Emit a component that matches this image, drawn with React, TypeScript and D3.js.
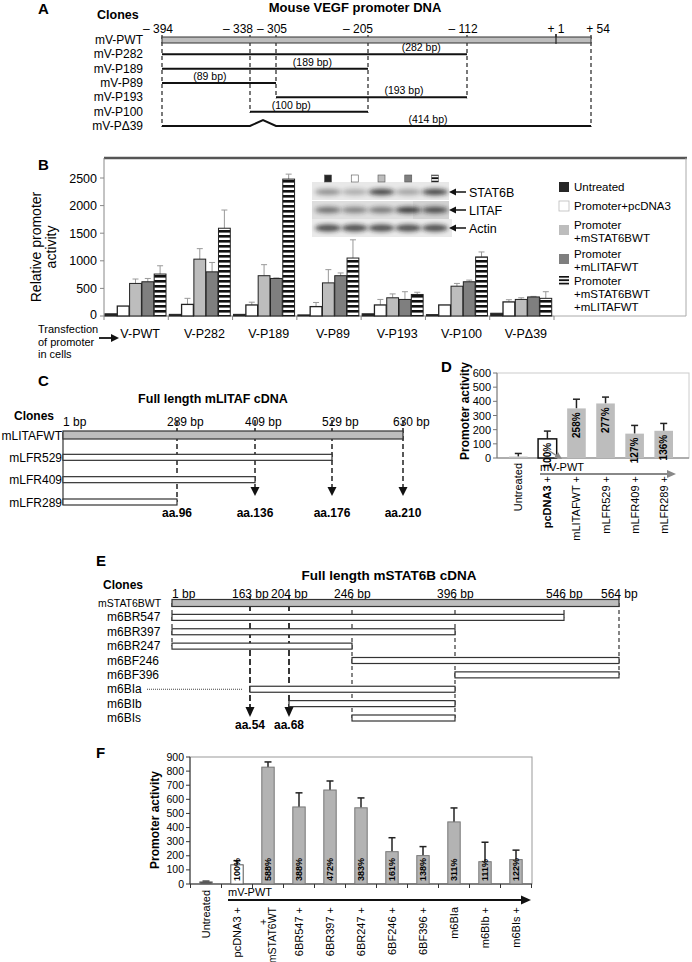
import React from "react";
import * as d3 from "d3";

const FONT = "'Liberation Sans', Arial, Helvetica, sans-serif";
const NARROW = "'Liberation Sans Narrow', 'Liberation Sans', Arial, sans-serif";

// ---------------- Panel A data ----------------
const promoterPositions = [-394, -338, -305, -205, -112, 1, 54];
const promoterTickLabels = ["– 394", "– 338", "– 305", "– 205", "– 112", "+ 1", "+ 54"];
const promoterClones = ["mV-PWT", "mV-P282", "mV-P189", "mV-P89", "mV-P193", "mV-P100", "mV-PΔ39"];
const promoterStart = [-394, -394, -394, -394, -305, -338, -394];
const promoterEnd = [54, -112, -205, -305, -112, -205, 54];
const promoterLengthLabels = ["", "(282 bp)", "(189 bp)", "(89 bp)", "(193 bp)", "(100 bp)", "(414 bp)"];

// ---------------- Panel B data ----------------
const promoterGroups = ["V-PWT", "V-P282", "V-P189", "V-P89", "V-P193", "V-P100", "V-PΔ39"];
const treatmentLabels = [
  ["Untreated"],
  ["Promoter+pcDNA3"],
  ["Promoter", "+mSTAT6BWT"],
  ["Promoter", "+mLITAFWT"],
  ["Promoter", "+mSTAT6BWT", "+mLITAFWT"],
];
const untreatedB = [40, 30, 30, 20, 40, 25, 50];
const pcdnaB = [180, 210, 200, 170, 200, 200, 255];
const stat6B = [590, 1030, 730, 600, 330, 540, 300];
const litafB = [620, 800, 680, 730, 300, 620, 345];
const comboB = [760, 1590, 2480, 1050, 390, 1070, 320];
const untreatedBErr = [0, 0, 0, 0, 0, 0, 0];
const pcdnaBErr = [0, 110, 50, 75, 100, 0, 40];
const stat6BErr = [80, 190, 200, 240, 70, 50, 30];
const litafBErr = [60, 170, 10, 50, 140, 30, 10];
const comboBErr = [150, 330, 90, 330, 40, 90, 120];
const bTicks = [0, 500, 1000, 1500, 2000, 2500];
const blotLabels = ["STAT6B", "LITAF", "Actin"];
const blotStat6B = [0.45, 0.3, 0.85, 0.35, 0.85];
const blotLitaf = [0.6, 0.5, 0.55, 0.9, 0.8];
const blotActin = [0.85, 0.85, 0.85, 0.85, 0.85];

// ---------------- Panel C data ----------------
const litafPositions = [1, 289, 409, 529, 630];
const litafTickLabels = ["1 bp", "289 bp", "409 bp", "529 bp", "630 bp"];
const litafClones = ["mLITAFWT", "mLFR529", "mLFR409", "mLFR289"];
const litafStart = [1, 1, 1, 1];
const litafEnd = [630, 529, 409, 289];
const litafAA = ["", "aa.96", "aa.136", "aa.176", "aa.210"];

// ---------------- Panel D data ----------------
const dCategories = ["Untreated", "pcDNA3", "mLITAFWT", "mLFR529", "mLFR409", "mLFR289"];
const dValues = [10, 135, 350, 385, 172, 192];
const dErrors = [22, 55, 65, 45, 58, 52];
const dPercent = ["", "100%", "258%", "277%", "127%", "136%"];
const dTicks = [0, 100, 200, 300, 400, 500, 600];

// ---------------- Panel E data ----------------
const statPositions = [1, 163, 204, 246, 396, 546, 564];
const statTickLabels = ["1 bp", "163 bp", "204 bp", "246 bp", "396 bp", "546 bp", "564 bp"];
const statClones = ["mSTAT6BWT", "m6BR547", "m6BR397", "m6BR247", "m6BF246", "m6BF396", "m6BIa", "m6BIb", "m6BIs"];
const statStart = [1, 1, 1, 1, 246, 396, 163, 204, 246];
const statEnd = [564, 546, 396, 246, 564, 564, 396, 396, 396];
const statAA = ["", "aa.54", "aa.68", "", "", "", ""];

// ---------------- Panel F data ----------------
const fCategories = ["Untreated", "pcDNA3", "mSTAT6WT", "6BR547", "6BR397", "6BR247", "6BF246", "6BF396", "m6BIa", "m6BIb", "m6BIs"];
const fLabelLines = [
  ["Untreated"], ["pcDNA3 +"], ["+", "mSTAT6WT"], ["6BR547 +"], ["6BR397 +"], ["6BR247 +"],
  ["6BF246 +"], ["6BF396 +"], ["m6BIa"], ["m6BIb +"], ["m6BIs +"],
];
const fValues = [15, 136, 828, 546, 666, 540, 229, 201, 440, 158, 173];
const fErrors = [5, 29, 37, 100, 64, 70, 99, 64, 99, 138, 67];
const fPercent = ["", "100%", "588%", "388%", "472%", "383%", "161%", "138%", "311%", "111%", "122%"];
const fTicks = [0, 100, 200, 300, 400, 500, 600, 700, 800, 900];

// ---------------- helpers ----------------
function tri(x: number, y: number, dir: string, len = 7, half = 4) {
  if (dir === "down") return `M${x - half},${y - len}L${x + half},${y - len}L${x},${y}Z`;
  if (dir === "right") return `M${x - len},${y - half}L${x - len},${y + half}L${x},${y}Z`;
  return `M${x + len},${y - half}L${x + len},${y + half}L${x},${y}Z`;
}

function PanelA() {
  const x = d3.scaleLinear().domain(promoterPositions).range([162, 250, 276, 368, 467, 556, 591]);
  const y = d3.scalePoint().domain(promoterClones).range([40, 126]);
  const tickDx = [-4, -12, -4, -10, -4, 0, 7];
  const labelFrac = [0, 0.85, 0.73, 0.42, 0.67, 0.35, 0.62];
  const lowest = (p: number) => {
    let r = -1;
    promoterClones.forEach((_, i) => {
      if (promoterStart[i] === p || promoterEnd[i] === p) r = i;
    });
    return r;
  };
  return (
    <g>
      <text x={38} y={14} fontSize={15} fontWeight="bold">A</text>
      <text x={355} y={12} fontSize={13} fontWeight="bold" textAnchor="middle">Mouse VEGF promoter DNA</text>
      <text x={97} y={19} fontSize={12.5} fontWeight="bold">Clones</text>
      {promoterPositions.map((p, i) => (
        <text key={"t" + i} x={x(p) + tickDx[i]} y={33} fontSize={12} textAnchor="middle">{promoterTickLabels[i]}</text>
      ))}
      {promoterPositions.map((p, i) => {
        const r = lowest(p);
        if (r < 0) return <line key={"d" + i} x1={x(p)} x2={x(p)} y1={34} y2={44} stroke="#222" strokeWidth={1.2} />;
        return <line key={"d" + i} x1={x(p)} x2={x(p)} y1={35} y2={y(promoterClones[r])! + 1} stroke="#222" strokeWidth={1.2} strokeDasharray="4,3" />;
      })}
      {promoterClones.map((c, i) => {
        const yy = y(c)!;
        const x0 = x(promoterStart[i]);
        const x1 = x(promoterEnd[i]);
        let mark;
        if (i === 0) {
          mark = <rect x={x0} y={yy - 3} width={x1 - x0} height={6} fill="#bdbdbd" stroke="#333" strokeWidth={1} />;
        } else if (c.includes("Δ")) {
          const a = x(-338), b = x(-305);
          mark = <path d={`M${x0},${yy}L${a},${yy}L${(a + b) / 2},${yy - 6}L${b},${yy}L${x1},${yy}`} fill="none" stroke="#111" strokeWidth={2} />;
        } else {
          mark = <line x1={x0} x2={x1} y1={yy} y2={yy} stroke="#111" strokeWidth={2} />;
        }
        return (
          <g key={c}>
            <text x={143} y={yy + 4} fontSize={12} textAnchor="end">{c}</text>
            {mark}
            {promoterLengthLabels[i] && (
              <text x={x0 + (x1 - x0) * labelFrac[i]} y={yy - 3} fontSize={10.5} textAnchor="middle">{promoterLengthLabels[i]}</text>
            )}
          </g>
        );
      })}
      <line x1={x(1)} x2={x(1)} y1={34} y2={43} stroke="#222" strokeWidth={1.2} />
    </g>
  );
}

function Blot() {
  const lanes = d3.scalePoint().domain(d3.range(5).map(String)).range([328, 435]);
  const rows = [blotStat6B, blotLitaf, blotActin];
  const rowY = [192, 210, 228];
  const laneFill = ["#262626", "#fff", "#bdbdbd", "#7f7f7f", "url(#stripesSmall)"];
  return (
    <g>
      <rect x={312} y={182} width={137} height={18} fill="#e8e8e8" />
      <rect x={312} y={201} width={137} height={18} fill="#dedede" />
      <rect x={413} y={201} width={36} height={18} fill="#d2d2d2" />
      <rect x={312} y={219} width={140} height={18} fill="#eaeaea" />
      {rows.map((vals, r) =>
        vals.map((v, i) => (
          <ellipse key={r + "-" + i} cx={lanes(String(i))!} cy={rowY[r]} rx={13} ry={r === 2 ? 3.5 : 3.2} fill="#1a1a1a" opacity={v * 0.9} filter="url(#blur)" />
        ))
      )}
      {laneFill.map((f, i) => (
        <rect key={"ln" + i} x={lanes(String(i))! - 3.5} y={175} width={7} height={7} fill={f} stroke="#555" strokeWidth={0.6} />
      ))}
      {blotLabels.map((l, r) => (
        <g key={l}>
          <line x1={451} x2={466} y1={rowY[r]} y2={rowY[r]} stroke="#111" strokeWidth={1.5} />
          <path d={tri(449, rowY[r], "left", 7, 3.5)} fill="#111" />
          <text x={469} y={rowY[r] + 4.5} fontSize={12.5}>{l}</text>
        </g>
      ))}
    </g>
  );
}

function PanelB() {
  const x0 = d3.scaleBand().domain(promoterGroups).range([104, 554]);
  const x1 = d3.scaleBand().domain(d3.range(5).map(String)).range([1, 62]).paddingInner(0.04);
  const y = d3.scaleLinear().domain([0, 2500]).range([316, 178]);
  const series = [untreatedB, pcdnaB, stat6B, litafB, comboB];
  const errs = [untreatedBErr, pcdnaBErr, stat6BErr, litafBErr, comboBErr];
  const fills = ["#262626", "#fff", "#bdbdbd", "#7f7f7f", "url(#stripes)"];
  const legendY = [187, 206, 225, 254, 281];
  return (
    <g>
      <text x={38} y={170} fontSize={15} fontWeight="bold">B</text>
      <line x1={104} x2={687} y1={158} y2={158} stroke="#555" strokeWidth={2.5} />
      <line x1={686} x2={686} y1={158} y2={316} stroke="#aaa" strokeWidth={1} />
      <line x1={554} x2={686} y1={316} y2={316} stroke="#aaa" strokeWidth={1} />
      <line x1={104} x2={104} y1={158} y2={316} stroke="#888" strokeWidth={1} />
      <line x1={104} x2={554} y1={316} y2={316} stroke="#888" strokeWidth={1} />
      {bTicks.map((t) => (
        <g key={t}>
          <line x1={100} x2={104} y1={y(t)} y2={y(t)} stroke="#888" />
          <text x={97} y={y(t) + (t === 0 ? 2.5 : 4.5)} fontSize={12.5} textAnchor="end">{t}</text>
        </g>
      ))}
      {promoterGroups.map((g, gi) => (
        <g key={g}>
          <line x1={x0(g)!} x2={x0(g)!} y1={316} y2={320} stroke="#888" />
          <text x={x0(g)! + x0.bandwidth() / 2 + 4} y={338} fontSize={12.5} textAnchor="middle">{g}</text>
          {series.map((s, si) => {
            const bx = x0(g)! + x1(String(si))!;
            const bw = x1.bandwidth();
            const top = y(s[gi]);
            const e = errs[si][gi];
            const cx = bx + bw / 2;
            return (
              <g key={si}>
                {e > 0 && (
                  <g stroke="#999" strokeWidth={1}>
                    <line x1={cx} x2={cx} y1={top} y2={y(s[gi] + e)} />
                    <line x1={cx - 3} x2={cx + 3} y1={y(s[gi] + e)} y2={y(s[gi] + e)} />
                  </g>
                )}
                <rect x={bx} y={top} width={bw} height={316 - top} fill={fills[si]} stroke="#222" strokeWidth={si === 1 ? 1.3 : 1} />
              </g>
            );
          })}
        </g>
      ))}
      <line x1={554} x2={554} y1={316} y2={320} stroke="#888" />
      <text transform="translate(41,247) rotate(-90)" fontSize={14} textAnchor="middle">Relative promoter</text>
      <text transform="translate(56,247) rotate(-90)" fontSize={14} textAnchor="middle">activity</text>
      <g fontSize={11}>
        <text x={38} y={333}>Transfection</text>
        <text x={38} y={345.5}>of promoter</text>
        <text x={38} y={358}>in cells</text>
      </g>
      <line x1={99} x2={112} y1={338} y2={338} stroke="#111" strokeWidth={1.8} />
      <path d={tri(119, 338, "right", 8, 4)} fill="#111" />
      <Blot />
      {treatmentLabels.map((lines, i) => {
        const sy = legendY[i] + (lines.length === 2 ? 5 : 0);
        return (
          <g key={i}>
            <rect x={559} y={sy - 5} width={10} height={10} fill={fills[i] === "url(#stripes)" ? "url(#stripesSmall)" : fills[i]} stroke={i === 1 ? "#bbb" : "none"} strokeWidth={0.8} />
            {lines.map((l, li) => (
              <text key={li} x={574} y={legendY[i] + 4 + li * 12.8} fontSize={11.5}>{l}</text>
            ))}
          </g>
        );
      })}
    </g>
  );
}

function PanelC() {
  const x = d3.scaleLinear().domain(litafPositions).range([63, 177, 255, 332, 403]);
  const y = d3.scalePoint().domain(litafClones).range([435, 502]);
  const last = litafClones.length - 1;
  const lowest = (p: number) => {
    let r = -1;
    litafClones.forEach((_, i) => {
      if (litafStart[i] === p || litafEnd[i] === p) r = i;
    });
    return r;
  };
  return (
    <g>
      <text x={38} y={386} fontSize={15} fontWeight="bold">C</text>
      <text x={213} y={403} fontSize={12.5} fontWeight="bold" textAnchor="middle">Full length mLITAF cDNA</text>
      <text x={14} y={420} fontSize={12} fontWeight="bold">Clones</text>
      {litafPositions.map((p, i) => (
        <text key={"t" + i} x={i === 0 ? x(p) : x(p) - 10} y={426} fontSize={12}>{litafTickLabels[i]}</text>
      ))}
      {litafPositions.map((p, i) => {
        if (i === 0) return null;
        const r = lowest(p);
        const arrow = litafAA[i] && r < last;
        const yEnd = arrow ? 488 : y(litafClones[r])!;
        return (
          <g key={"d" + i}>
            <line x1={x(p)} x2={x(p)} y1={420} y2={yEnd} stroke="#222" strokeWidth={1.5} strokeDasharray="5,3" />
            {arrow && <path d={tri(x(p), 496, "down", 9, 4.5)} fill="#111" />}
            <text x={x(p)} y={517} fontSize={12} fontWeight="bold" textAnchor="middle">{litafAA[i]}</text>
          </g>
        );
      })}
      <line x1={x(1)} x2={x(1)} y1={432} y2={505} stroke="#333" strokeWidth={1.2} />
      {litafClones.map((c, i) => {
        const yy = y(c)!;
        const x0 = x(litafStart[i]);
        const x1 = x(litafEnd[i]);
        return (
          <g key={c}>
            <text x={62} y={yy + 4.5} fontSize={12} textAnchor="end">{c}</text>
            {i === 0 ? (
              <rect x={x0} y={yy - 4} width={x1 - x0} height={8} fill="#bdbdbd" stroke="#333" strokeWidth={1.2} />
            ) : (
              <rect x={x0} y={yy - 3} width={x1 - x0} height={6} fill="#fff" stroke="#333" strokeWidth={1.2} />
            )}
          </g>
        );
      })}
    </g>
  );
}

function PanelD() {
  const x = d3.scaleBand().domain(dCategories).range([509, 673]).paddingInner(0.36);
  const y = d3.scaleLinear().domain([0, 600]).range([458, 373]);
  return (
    <g>
      <text x={441} y={372} fontSize={15} fontWeight="bold">D</text>
      <rect x={497} y={373} width={192} height={85} fill="none" stroke="#ccc" />
      <line x1={497} x2={497} y1={373} y2={458} stroke="#777" />
      <line x1={497} x2={689} y1={458} y2={458} stroke="#777" />
      {dTicks.map((t) => (
        <g key={t}>
          <line x1={493} x2={497} y1={y(t)} y2={y(t)} stroke="#777" />
          <text x={491} y={y(t) + 4} fontSize={11} textAnchor="end">{t}</text>
        </g>
      ))}
      <text transform="translate(469,411) rotate(-90)" fontSize={12} fontWeight="bold" textAnchor="middle">Promoter activity</text>
      {dCategories.map((c, i) => {
        const bx = x(c)!;
        const bw = x.bandwidth();
        const cx = bx + bw / 2;
        const top = y(dValues[i]);
        const et = y(dValues[i] + dErrors[i]);
        return (
          <g key={c}>
            <g stroke="#222" strokeWidth={1.5}>
              <line x1={cx} x2={cx} y1={top} y2={et} />
              <line x1={cx - 3.5} x2={cx + 3.5} y1={et} y2={et} />
            </g>
            <rect x={bx} y={top} width={bw} height={458 - top} fill={i === 1 ? "#fff" : "#bdbdbd"} stroke={i === 1 ? "#111" : "none"} strokeWidth={1.5} />
            {dPercent[i] && (
              <text transform={`translate(${cx + 3.5},${top + 4}) rotate(-90)`} fontSize={10} fontWeight="bold" textAnchor="end">{dPercent[i]}</text>
            )}
            {i === 0 ? (
              <text transform={`translate(${cx + 4},463) rotate(-90)`} fontSize={11} textAnchor="end">{c}</text>
            ) : (
              <text transform={`translate(${cx + 4},476) rotate(-90)`} fontSize={11} textAnchor="end">
                <tspan fontWeight={i === 1 ? "bold" : "normal"}>{c}</tspan> +
              </text>
            )}
          </g>
        );
      })}
      <line x1={548} x2={557} y1={450} y2={456} stroke="#888" strokeWidth={1.5} />
      <path d="M562,459 L554,458 L558,452 Z" fill="#888" />
      <text x={540} y={471} fontSize={11}>mV-PWT</text>
      <line x1={540} x2={668} y1={474} y2={474} stroke="#888" strokeWidth={2} />
      <path d={tri(676, 474, "right", 9, 4)} fill="#888" />
    </g>
  );
}

function PanelE() {
  const x = d3.scaleLinear().domain(statPositions).range([172, 250, 289, 352, 455, 564, 619]);
  const y = d3.scalePoint().domain(statClones).range([603, 718]);
  const last = statClones.length - 1;
  const lowest = (p: number) => {
    let r = -1;
    statClones.forEach((_, i) => {
      if (statStart[i] === p || statEnd[i] === p) r = i;
    });
    return r;
  };
  const yLast = y(statClones[last])!;
  return (
    <g>
      <text x={96} y={566} fontSize={15} fontWeight="bold">E</text>
      <text x={389} y={580} fontSize={13.5} fontWeight="bold" textAnchor="middle">Full length mSTAT6B cDNA</text>
      <text x={103} y={589} fontSize={12} fontWeight="bold">Clones</text>
      {statPositions.map((p, i) => (
        <text key={"t" + i} x={i === 0 ? x(p) : x(p) - 18} y={598} fontSize={12} fontFamily={NARROW}>{statTickLabels[i]}</text>
      ))}
      {statPositions.map((p, i) => {
        const r = lowest(p);
        const arrow = statAA[i] && r < last;
        const yEnd = arrow ? yLast - 9 : y(statClones[r])!;
        return (
          <g key={"d" + i}>
            <line x1={x(p)} x2={x(p)} y1={i === 0 ? 603 : 596} y2={yEnd} stroke="#222" strokeWidth={arrow ? 1.8 : 1.1} strokeDasharray={arrow ? "6,3" : "4,3"} />
            {arrow && <path d={tri(x(p), yLast - 1, "down", 10, 4.5)} fill="#111" />}
            {statAA[i] && (
              <text x={x(p)} y={yLast + 11} fontSize={12} fontWeight="bold" textAnchor="middle" fontFamily={NARROW}>{statAA[i]}</text>
            )}
          </g>
        );
      })}
      {statClones.map((c, i) => {
        const yy = y(c)!;
        const x0 = x(statStart[i]);
        const x1 = x(statEnd[i]);
        return (
          <g key={c}>
            <text x={i === 0 ? 98 : 107} y={yy + 4} fontSize={i === 0 ? 10.5 : 12} fontFamily={NARROW}>{c}</text>
            {c === "m6BIa" && <line x1={147} x2={243} y1={yy} y2={yy} stroke="#444" strokeWidth={1} strokeDasharray="1,1" />}
            {i === 0 ? (
              <rect x={x0} y={yy - 3.5} width={x1 - x0} height={7} fill="#bdbdbd" stroke="#333" strokeWidth={1.2} />
            ) : (
              <rect x={x0} y={yy - 3} width={x1 - x0} height={6} fill="#fff" stroke="#333" strokeWidth={1.2} />
            )}
          </g>
        );
      })}
    </g>
  );
}

function PanelF() {
  const x = d3.scaleBand().domain(fCategories).range([190.5, 531.5]).paddingInner(0.6).paddingOuter(0.3);
  const y = d3.scaleLinear().domain([0, 900]).range([884, 757]);
  const step = x.step();
  return (
    <g>
      <text x={96} y={758} fontSize={15} fontWeight="bold">F</text>
      <rect x={190} y={757} width={342} height={127} fill="none" stroke="#999" />
      <line x1={190} x2={190} y1={757} y2={884} stroke="#333" />
      <line x1={190} x2={532} y1={884} y2={884} stroke="#333" />
      {fTicks.map((t) => (
        <g key={t}>
          <line x1={186} x2={190} y1={y(t)} y2={y(t)} stroke="#333" />
          <text x={184} y={y(t) + 3.5} fontSize={10.5} textAnchor="end">{t}</text>
        </g>
      ))}
      {d3.range(fCategories.length + 1).map((i) => (
        <line key={"xt" + i} x1={190.5 + i * step} x2={190.5 + i * step} y1={884} y2={888} stroke="#333" />
      ))}
      <text transform="translate(159,820) rotate(-90)" fontSize={12} fontWeight="bold" textAnchor="middle">Promoter activity</text>
      {fCategories.map((c, i) => {
        const bx = x(c)!;
        const bw = x.bandwidth();
        const cx = bx + bw / 2;
        const top = y(fValues[i]);
        const et = y(fValues[i] + fErrors[i]);
        const lines = fLabelLines[i];
        return (
          <g key={c}>
            <g stroke="#222" strokeWidth={1.5}>
              <line x1={cx} x2={cx} y1={top} y2={et} />
              <line x1={cx - 3.5} x2={cx + 3.5} y1={et} y2={et} />
            </g>
            <rect x={bx} y={top} width={bw} height={884 - top} fill={i === 0 ? "#444" : i === 1 ? "#fff" : "#b3b3b3"} stroke={i === 1 ? "#555" : "#777"} strokeWidth={1} />
            {fPercent[i] && (
              <text transform={`translate(${cx + 3.2},881) rotate(-90)`} fontSize={9} fontWeight="bold" fontFamily={NARROW}>{fPercent[i]}</text>
            )}
            {lines.length === 1 ? (
              <text transform={`translate(${cx + 4},${i === 0 ? 890 : 907}) rotate(-90)`} fontSize={11} fontFamily={NARROW} textAnchor="end">{lines[0]}</text>
            ) : (
              <g>
                <text transform={`translate(${cx - 1},922) rotate(-90)`} fontSize={10.5} fontFamily={NARROW} textAnchor="middle">{lines[0]}</text>
                <text transform={`translate(${cx + 8},907) rotate(-90)`} fontSize={10.5} fontFamily={NARROW} textAnchor="end">{lines[1]}</text>
              </g>
            )}
          </g>
        );
      })}
      <text x={228} y={896} fontSize={11}>mV-PWT</text>
      <line x1={228} x2={522} y1={900} y2={900} stroke="#111" strokeWidth={2} />
      <path d={tri(531, 900, "right", 10, 4.5)} fill="#111" />
    </g>
  );
}

export default function App() {
  return (
    <svg width={692} height={962} viewBox="0 0 692 962" style={{ position: "absolute", left: 0, top: 0, background: "#fff" }} fontFamily={FONT}>
      <defs>
        <pattern id="stripes" patternUnits="userSpaceOnUse" width="8" height="5">
          <rect width="8" height="5" fill="#fff" />
          <rect width="8" height="2.6" fill="#111" />
        </pattern>
        <pattern id="stripesSmall" patternUnits="userSpaceOnUse" width="8" height="3.4" y="0.5">
          <rect width="8" height="3.4" fill="#fff" />
          <rect width="8" height="1.8" fill="#111" />
        </pattern>
        <filter id="blur" x="-50%" y="-100%" width="200%" height="300%">
          <feGaussianBlur stdDeviation="2" />
        </filter>
      </defs>
      <rect width={692} height={962} fill="#fff" />
      <PanelA />
      <PanelB />
      <PanelC />
      <PanelD />
      <PanelE />
      <PanelF />
    </svg>
  );
}
